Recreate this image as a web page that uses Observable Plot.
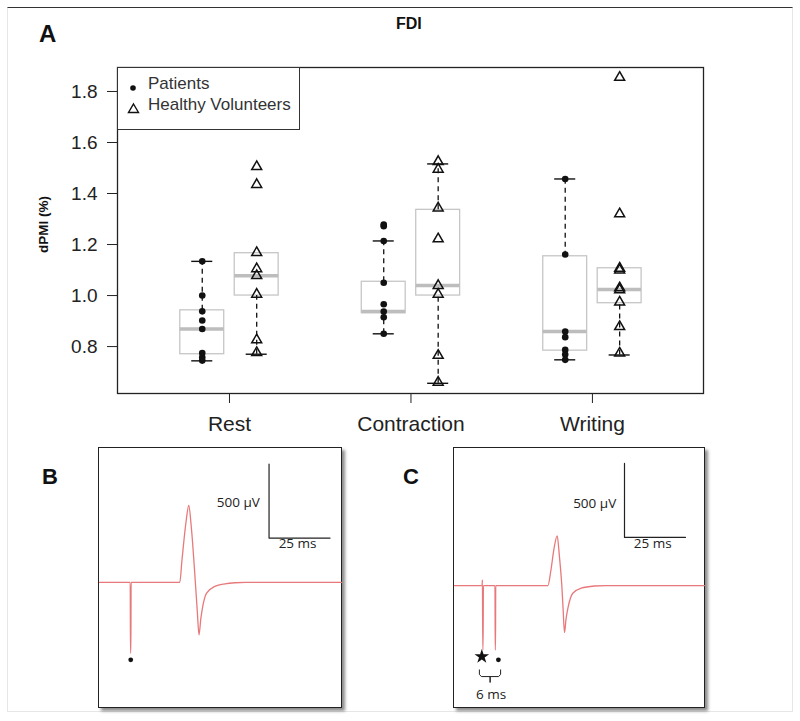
<!DOCTYPE html>
<html>
<head>
<meta charset="utf-8">
<script src="https://cdn.jsdelivr.net/npm/d3@7"></script>
<script src="https://cdn.jsdelivr.net/npm/@observablehq/plot@0.6"></script>
<style>
  html, body { margin: 0; padding: 0; background: white; }
  #fig { position: relative; width: 800px; height: 721px; background: white; overflow: hidden; font-family: "Liberation Sans", Arial, sans-serif; }
  .abs { position: absolute; }
  .lab { position: absolute; font-weight: bold; color: #111; line-height: 1; }
  .panel { position: absolute; border: 1.3px solid #222; box-shadow: 3px 3px 3px rgba(0,0,0,0.45); background: white; }
  .panel svg { display: block; }
</style>
</head>
<body>
<div id="fig"></div>
<script>
// ---------------- Panel A data (dPMI %) ----------------
const conditions = ["Rest", "Contraction", "Writing"];
const groups = ["Patients", "Healthy Volunteers"];
const yTicks = [0.8, 1.0, 1.2, 1.4, 1.6, 1.8];

const restPatients = [1.134, 1.00, 0.938, 0.902, 0.869, 0.775, 0.758, 0.745];
const restHealthy = [1.505, 1.435, 1.168, 1.105, 1.078, 1.005, 0.826, 0.776];
const contractionPatients = [1.278, 1.272, 1.214, 1.05, 0.966, 0.937, 0.915, 0.85];
const contractionHealthy = [1.525, 1.495, 1.343, 1.222, 1.039, 1.005, 0.765, 0.66];
const writingPatients = [1.457, 1.161, 0.859, 0.837, 0.787, 0.769, 0.748];
const writingHealthy = [1.855, 1.32, 1.107, 1.10, 1.03, 1.022, 0.974, 0.878, 0.774];

// box statistics
const boxCondition = ["Rest", "Rest", "Contraction", "Contraction", "Writing", "Writing"];
const boxGroup = ["Patients", "Healthy Volunteers", "Patients", "Healthy Volunteers", "Patients", "Healthy Volunteers"];
const whiskerLow  = [0.744, 0.770, 0.850, 0.656, 0.748, 0.767];
const q1          = [0.770, 1.000, 0.931, 1.000, 0.784, 0.970];
const median      = [0.869, 1.078, 0.937, 1.039, 0.859, 1.024];
const q3          = [0.942, 1.166, 1.054, 1.336, 1.154, 1.107];
const whiskerHigh = [1.134, 1.166, 1.214, 1.516, 1.457, 1.107];

// ---------------- Panel B / C data (time ms, amplitude µV) ----------------
const traceBTime = [0, 12.6, 12.7, 12.85, 12.95, 32.9, 33.8, 35.4, 36.6, 37.6, 39.3, 40.1, 40.8, 41.5, 42.2, 43.9, 47.3, 51.4, 55.5, 60, 99.2];
const traceBAmp  = [0, 0, -477, -477, 0, 0, 150, 400, 520, 380, 0, -200, -354, -250, -173, -72, -27, -9, -2, 0, 0];
const traceCTime = [0, 11.3, 11.45, 11.6, 11.7, 11.85, 16.6, 16.7, 16.8, 16.9, 38.3, 39.5, 40.8, 42.1, 43.0, 44.0, 44.5, 45.1, 45.7, 46.5, 48.5, 51.9, 57.4, 62, 102.5];
const traceCAmp  = [0, 0, 38, -435, -435, 0, 0, -435, -435, 0, 0, 100, 250, 336, 200, 0, -150, -318, -230, -153, -52, -18, -3, 0, 0];

const stimBTime = [12.8];  const stimBAmp = [-523];
const condCTime = [11.2];  const condCAmp = [-480];
const testCTime = [18.0];  const testCAmp = [-502];

const scaleBarB = {t: [69.5, 69.5, 94.5], v: [800, 300, 300]};
const scaleBarC = {t: [69.7, 69.7, 94.7], v: [825, 325, 325]};
const braceTime = [10.2, 10.2, 11.0, 14.6, 14.6, 14.6, 18.1, 18.9, 18.9];
const braceAmp  = [-570, -600, -615, -615, -655, -615, -615, -600, -570];

const ampLabelB = [{t: 65.7, v: 536, text: "500 µV"}];
const timeLabelB = [{t: 81.2, v: 262, text: "25 ms"}];
const ampLabelC = [{t: 66.3, v: 556, text: "500 µV"}];
const timeLabelC = [{t: 81.3, v: 280, text: "25 ms"}, {t: 15.0, v: -734, text: "6 ms"}];

// ---------------- build tables ----------------
const offset = g => (g === "Patients" ? -0.15 : 0.15);
const xOf = (c, g) => conditions.indexOf(c) + 1 + offset(g);
const boxes = boxCondition.map((c, i) => ({
  x: xOf(c, boxGroup[i]), lo: whiskerLow[i], q1: q1[i], med: median[i], q3: q3[i], hi: whiskerHigh[i]
}));
const halfW = 0.121, capW = 0.058;
const caps = [];
boxes.forEach(b => {
  if (b.hi > b.q3) caps.push({x: b.x, y: b.hi});
  if (b.lo < b.q1) caps.push({x: b.x, y: b.lo});
});
const pts = (arr, c, g) => arr.map(v => ({x: xOf(c, g), y: v}));
const patientPts = [...pts(restPatients, "Rest", "Patients"), ...pts(contractionPatients, "Contraction", "Patients"), ...pts(writingPatients, "Writing", "Patients")];
const healthyPts = [...pts(restHealthy, "Rest", "Healthy Volunteers"), ...pts(contractionHealthy, "Contraction", "Healthy Volunteers"), ...pts(writingHealthy, "Writing", "Healthy Volunteers")];

const fig = document.getElementById("fig");

// outer frame
const outer = document.createElement("div");
outer.className = "abs";
Object.assign(outer.style, {left: "7px", top: "7px", width: "786px", height: "705px", borderTop: "1.5px solid #333", borderLeft: "1px solid #e6e6e6", borderRight: "1px solid #e6e6e6", borderBottom: "1px solid #e6e6e6", boxSizing: "border-box"});
fig.appendChild(outer);

const plotA = Plot.plot({
  width: 800, height: 440,
  marginTop: 67, marginBottom: 47, marginLeft: 117, marginRight: 97,
  x: {domain: [0.383, 3.612], axis: null},
  y: {domain: [0.616, 1.894], axis: null},
  style: {fontFamily: "Liberation Sans, Arial, sans-serif", background: "transparent", color: "#222", overflow: "visible"},
  marks: [
    Plot.rect(boxes, {x1: d => d.x - halfW, x2: d => d.x + halfW, y1: "q1", y2: "q3", fill: "white", stroke: "#c6c6c6", strokeWidth: 1.3}),
    Plot.ruleY(boxes, {y: "med", x1: d => d.x - halfW, x2: d => d.x + halfW, stroke: "#bdbdbd", strokeWidth: 3.5}),
    Plot.ruleX(boxes.filter(b => b.hi > b.q3), {x: "x", y1: "q3", y2: "hi", stroke: "#111", strokeWidth: 1.3, strokeDasharray: "5,4"}),
    Plot.ruleX(boxes.filter(b => b.lo < b.q1), {x: "x", y1: "lo", y2: "q1", stroke: "#111", strokeWidth: 1.3, strokeDasharray: "5,4"}),
    Plot.ruleY(caps, {y: "y", x1: d => d.x - capW, x2: d => d.x + capW, stroke: "#111", strokeWidth: 1.4}),
    Plot.dot(patientPts, {x: "x", y: "y", r: 3.3, symbol: "circle", fill: "#111", stroke: "none"}),
    Plot.dot(healthyPts, {x: "x", y: "y", r: 3.7, symbol: "triangle", fill: "none", stroke: "#111", strokeWidth: 1.5}),
    Plot.axisY({ticks: yTicks, tickFormat: d => d.toFixed(1), tickSize: 10, tickPadding: 10, fontSize: 19, label: null, anchor: "left", color: "#222"}),
    Plot.axisX({ticks: [1, 2, 3], tickFormat: i => conditions[i - 1], tickSize: 10, tickPadding: 13, fontSize: 21, label: null, anchor: "bottom"}),
    Plot.frame({stroke: "#222", strokeWidth: 1.3}),
    Plot.text(["dPMI (%)"], {frameAnchor: "left", textAnchor: "middle", dx: -74, dy: -6, rotate: -90, fontWeight: "bold", fontSize: 13.5, fill: "#111"})
  ]
});
plotA.style.position = "absolute";
plotA.style.left = "0px";
plotA.style.top = "0px";
fig.appendChild(plotA);

// legend
const leg = document.createElement("div");
leg.className = "abs";
Object.assign(leg.style, {left: "117px", top: "67px", width: "183px", height: "63px", border: "1.3px solid #333", boxSizing: "border-box", background: "white", color: "#333", fontSize: "17px"});
leg.innerHTML = `
  <svg class="abs" style="left:9px;top:14px" width="12" height="12"><circle cx="6" cy="6" r="2.8" fill="#111"/></svg>
  <div class="abs" style="left:30px;top:7px;line-height:1">${groups[0]}</div>
  <svg class="abs" style="left:9px;top:34px" width="13" height="12"><path d="M6.5,2 L11.5,10.5 L1.5,10.5 Z" fill="none" stroke="#111" stroke-width="1.4"/></svg>
  <div class="abs" style="left:30px;top:28px;line-height:1">${groups[1]}</div>`;
fig.appendChild(leg);

// titles
const addLab = (txt, left, top, size) => {
  const d = document.createElement("div");
  d.className = "lab";
  d.textContent = txt;
  Object.assign(d.style, {left: left + "px", top: top + "px", fontSize: size + "px"});
  fig.appendChild(d);
};
addLab("A", 39, 22, 24);
addLab("FDI", 396, 16, 16);
addLab("B", 42, 466, 22);
addLab("C", 403, 466, 22);

// panels B and C
function tracePanel(left, top, w, h, tMax, vDomain, traceT, traceV, dots, stars, bar, ampLabels, timeLabels, extra) {
  const trace = traceT.map((t, i) => ({t, v: traceV[i]}));
  const barData = bar.t.map((t, i) => ({t, v: bar.v[i]}));
  const marks = [
    Plot.line(trace, {x: "t", y: "v", stroke: "#e8797b", strokeWidth: 1.3, curve: "monotone-x"}),
    Plot.line(barData, {x: "t", y: "v", stroke: "#222", strokeWidth: 1.2}),
    Plot.dot(dots, {x: "t", y: "v", r: 2.4, fill: "#111", stroke: "none"}),
    Plot.dot(stars, {x: "t", y: "v", r: 4.6, symbol: "star", fill: "#111", stroke: "none"}),
    Plot.text(ampLabels, {x: "t", y: "v", text: "text", textAnchor: "end", fontSize: 13.5, fill: "#222"}),
    Plot.text(timeLabels, {x: "t", y: "v", text: "text", textAnchor: "middle", fontSize: 13.5, fill: "#222"}),
    ...extra
  ];
  const p = Plot.plot({
    width: w, height: h, margin: 0,
    x: {domain: [0, tMax], axis: null},
    y: {domain: vDomain, axis: null},
    style: {fontFamily: "Open Sans, Noto Sans, sans-serif", background: "white", overflow: "visible"},
    marks
  });
  const div = document.createElement("div");
  div.className = "panel";
  Object.assign(div.style, {left: left + "px", top: top + "px", width: w + "px", height: h + "px"});
  div.appendChild(p);
  fig.appendChild(div);
}

tracePanel(98, 447, 242, 259, 99.2, [-845, 905], traceBTime, traceBAmp,
  stimBTime.map((t, i) => ({t, v: stimBAmp[i]})), [], scaleBarB, ampLabelB, timeLabelB, []);

const brace = braceTime.map((t, i) => ({t, v: braceAmp[i]}));
tracePanel(453, 447, 250, 259, 102.5, [-824, 926], traceCTime, traceCAmp,
  testCTime.map((t, i) => ({t, v: testCAmp[i]})),
  condCTime.map((t, i) => ({t, v: condCAmp[i]})),
  scaleBarC, ampLabelC, timeLabelC,
  [Plot.line(brace, {x: "t", y: "v", stroke: "#222", strokeWidth: 1, curve: "linear"})]);
</script>
</body>
</html>
